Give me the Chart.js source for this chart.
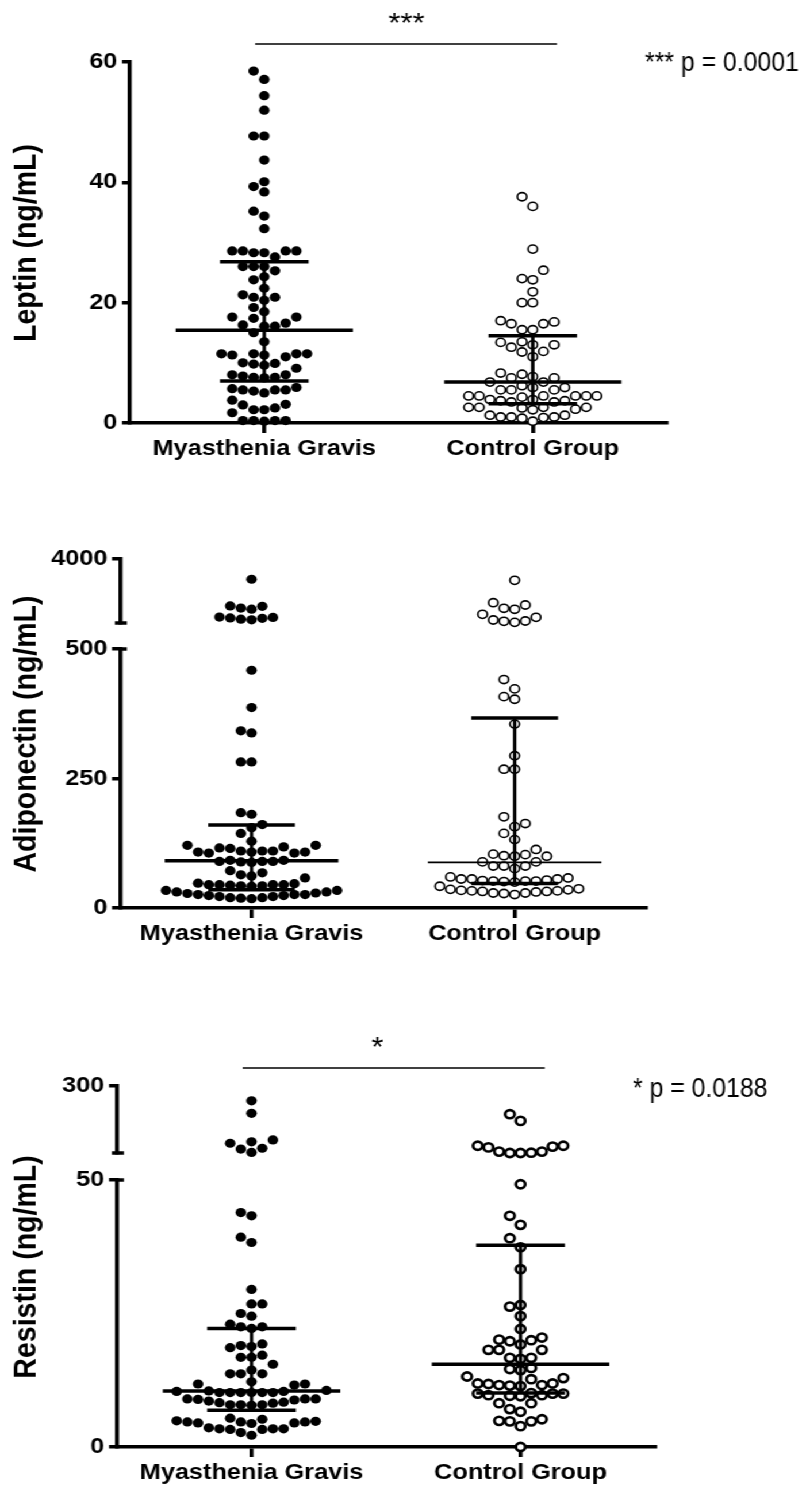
<!DOCTYPE html>
<html>
<head>
<meta charset="utf-8">
<script src="https://cdn.jsdelivr.net/npm/chart.js@4.4.1/dist/chart.umd.min.js"></script>
<style>
  html, body { margin: 0; padding: 0; background: #fff; }
  /* the source figure is stretched sideways, so the whole page is too */
  #page { position: relative; width: 701px; height: 1490px; transform: scaleX(1.1498); transform-origin: 0 0; }
  .panel { position: absolute; left: 0; width: 701px; }
  .panel canvas { position: absolute; left: 0; top: 0; }
</style>
</head>
<body>
<div id="page">
  <div class="panel" style="top:0;height:480px">
    <canvas id="leptin" width="701" height="480"></canvas>
  </div>
  <div class="panel" style="top:480px;height:480px">
    <canvas id="adipoLow" width="701" height="480"></canvas>
    <canvas id="adipoHigh" width="701" height="480"></canvas>
  </div>
  <div class="panel" style="top:960px;height:530px">
    <canvas id="resLow" width="701" height="530"></canvas>
    <canvas id="resHigh" width="701" height="530"></canvas>
  </div>
</div>
<script>
const groups = ['Myasthenia Gravis', 'Control Group'];

// Leptin (ng/mL)
const leptinMG = [
  58.5, 57.1, 54.4, 52.0, 47.7, 47.7, 43.7, 40.1, 39.3, 38.4, 35.2, 34.4, 32.3,
  28.6, 28.6, 28.3, 28.3, 28.6, 28.6, 27.6, 26.0, 26.0, 26.0, 25.3,
  24.3, 23.8, 22.4, 21.3, 20.9, 20.9, 20.4, 19.2, 18.5, 17.6, 17.6, 17.4, 16.6, 16.3, 16.1, 16.1, 15.0,
  13.5, 11.5, 11.5, 11.3, 11.3, 11.5, 11.5, 11.0,
  10.0, 9.8, 9.6, 9.9, 9.1, 8.0, 8.0, 7.6, 7.5, 7.6, 7.8,
  5.7, 5.5, 5.5, 5.0, 5.3, 5.5, 5.9,
  3.8, 3.0, 2.2, 2.2, 2.5, 3.1, 1.7,
  0.4, 0.4, 0.3, 0.4, 0.4
];
const leptinCG = [
  37.6, 36.0, 28.9, 25.4, 24.0, 23.8, 21.8, 20.0, 20.0,
  17.0, 16.5, 15.5, 15.5, 16.5, 16.8,
  13.5, 13.0, 12.6, 13.0, 13.4, 11.8, 11.0, 11.9,
  8.3, 7.7, 7.5, 7.5, 8.1, 6.8, 6.2, 5.9, 5.5, 5.9, 6.8,
  5.5, 5.5, 4.5, 4.5, 4.5, 4.3, 4.5, 4.5, 4.5,
  3.9, 3.7, 3.5, 3.5, 3.7, 3.9,
  2.6, 2.6, 2.3, 2.2, 2.5, 2.6, 2.6,
  1.3, 1.0, 0.9, 1.0, 1.0, 1.3,
  0.3, 0.8
];
const leptinMedian = [15.4, 6.8];
const leptinQ1 = [7.0, 3.2];
const leptinQ3 = [26.8, 14.5];
const leptinTicks = [0, 20, 40, 60];

// Adiponectin (ng/mL), broken axis 0-500 / 1000-4000
const adipoMG = [
  3050, 1780, 1700, 1650, 1800, 1260, 1220, 1150, 1180, 1240, 1280,
  459, 387, 342, 338, 282, 282, 184, 181, 161, 155, 144, 129, 118, 121, 121,
  115, 110, 108, 106, 108, 110, 108, 106, 110, 116,
  92, 90, 89, 90, 88, 90, 92,
  68, 62, 58, 64, 72,
  48, 45, 44, 43, 45, 42, 43, 45, 45, 47,
  34, 31, 29, 26, 24, 22, 20, 20, 18, 19, 22, 24, 26, 26, 28, 31, 34
];
const adipoCG = [
  3000, 1844, 1642, 1689, 1952, 1406, 1141, 1078, 1030, 1094, 1266,
  441, 423, 408, 403, 355, 294, 268, 268, 176, 163, 157, 144, 132, 113,
  103, 100, 100, 101, 104, 89, 89, 81, 76, 81, 81,
  60, 56, 56, 53, 52, 51, 50, 52, 52, 54, 56, 58,
  36, 35, 33, 32, 31, 29, 26, 28, 29, 32, 33, 34, 37, 42
];
const adipoMedian = [91, 88];
const adipoQ1 = [35, 47.5];
const adipoQ3 = [160, 367];
const adipoTicksLow = [0, 250, 500];
const adipoTicksHigh = [4000];
const adipoRangeHigh = [1000, 4000];

// Resistin (ng/mL), broken axis 0-50 / 60-300
const resistinMG = [
  247, 202, 95, 74, 107, 62, 77, 100,
  43.3, 43.9, 39.3, 38.3, 29.5, 26.8, 26.8, 24.5, 25.0, 23.0, 22.2, 22.5, 22.5,
  19.3, 18.6, 18.8, 19.0, 16.8, 17.2, 16.8, 15.5, 14.4, 13.7, 13.7, 13.7, 12.2, 11.8, 11.8, 11.6,
  10.6, 10.4, 10.2, 10.2, 10.2, 10.2, 10.2, 10.2, 10.4, 10.5,
  9.0, 8.6, 8.2, 7.9, 9.0, 8.9, 8.8, 9.0, 8.3, 7.9, 7.8, 7.9, 8.4,
  5.4, 4.8, 4.7, 4.7, 4.5, 4.4, 4.5, 4.7, 4.9, 5.2,
  3.4, 3.3, 2.7, 2.2, 3.4, 3.3, 3.4, 3.6
];
const resistinCG = [
  175, 199, 86, 80, 65, 60, 60, 61, 65, 83, 86,
  49.2, 43.3, 41.6, 39.1, 37.4, 33.3, 26.3, 26.6, 24.5, 22.1,
  20.0, 19.2, 20.1, 20.5, 19.8, 18.2, 18.2, 18.2, 16.7, 16.7, 16.5, 14.8, 14.6, 14.4, 12.9, 12.7, 13.2,
  11.9, 11.6, 11.4, 11.6, 11.5, 11.8, 11.9,
  10.1, 10.0, 9.5, 9.7, 10.0, 9.7, 9.6, 10.0,
  8.2, 8.2, 6.6, 7.1, 4.9, 4.8, 4.8, 5.2, 3.9, 0.0
];
const resistinMedian = [10.5, 15.5];
const resistinQ1 = [6.9, 10.1];
const resistinQ3 = [22.2, 37.8];
const resistinTicksLow = [0, 50];
const resistinTicksHigh = [300];
const resistinRangeHigh = [60, 300];

const SX = 806 / 701;
const FONT = '"Liberation Sans", Arial, Helvetica, sans-serif';
const BLACK = '#000';
const SLOT = 9.3;      // horizontal step between dots
const DOT_GAP = 10;    // min distance between dot centres

function annotPlugin(cfg) {
  return {
    id: 'annot',
    afterDraw(chart) {
      const ctx = chart.ctx, area = chart.chartArea, xs = chart.scales.x, ys = chart.scales.y;
      ctx.save();
      ctx.strokeStyle = BLACK;
      ctx.fillStyle = BLACK;
      (cfg.caps || []).forEach(c => {
        const y = ys.getPixelForValue(c.value);
        ctx.lineWidth = 3.5;
        ctx.beginPath();
        ctx.moveTo(area.left - c.l, y);
        ctx.lineTo(area.left + c.r, y);
        ctx.stroke();
      });
      (cfg.bars || []).forEach(b => {
        ctx.lineWidth = 1.6;
        ctx.beginPath();
        ctx.moveTo(xs.getPixelForValue(b.from), b.y);
        ctx.lineTo(xs.getPixelForValue(b.to), b.y);
        ctx.stroke();
      });
      (cfg.texts || []).forEach(t => {
        ctx.save();
        const x = t.xv !== undefined ? xs.getPixelForValue(t.xv) : t.x;
        ctx.translate(x, t.y);
        if (t.rotate) ctx.rotate(t.rotate);
        ctx.scale(1, t.sy || 1);
        ctx.font = t.font;
        ctx.textAlign = t.align || 'left';
        ctx.textBaseline = t.baseline || 'alphabetic';
        ctx.fillText(t.text, 0, 0);
        ctx.restore();
      });
      ctx.restore();
    }
  };
}

function dotSet(style) {
  return Object.assign({data: [], order: 1, clip: false, pointStyle: 'circle', showLine: false}, style);
}
const filled = {pointRadius: 4.6, pointBackgroundColor: BLACK, pointBorderColor: BLACK, pointBorderWidth: 0};
const open = w => ({pointRadius: 4.1, pointBackgroundColor: '#fff', pointBorderColor: BLACK, pointBorderWidth: w});

function summarySets(med, q1, q3, medW) {
  const sets = [];
  const seg = (a, b, w) => sets.push({
    data: [a, b], showLine: true, pointRadius: 0, borderColor: BLACK,
    borderWidth: w, borderCapStyle: 'butt', order: 0, clip: false
  });
  med.forEach((m, g) => {
    seg({x: g - 0.33, y: m}, {x: g + 0.33, y: m}, medW[g]);
    seg({x: g - 0.165, y: q1[g]}, {x: g + 0.165, y: q1[g]}, 3.5);
    seg({x: g - 0.165, y: q3[g]}, {x: g + 0.165, y: q3[g]}, 3.5);
    seg({x: g, y: q1[g]}, {x: g, y: q3[g]}, 3);
  });
  return sets;
}

function makeChart(id, o) {
  const canvas = document.getElementById(id);
  const W = canvas.width, H = canvas.height;
  const xH = o.showX ? 40 : 0;
  return new Chart(canvas, {
    type: 'scatter',
    data: {datasets: o.datasets},
    options: {
      responsive: false,
      animation: false,
      devicePixelRatio: 1,
      events: [],
      layout: {padding: {left: 0, top: o.top, right: W - o.right, bottom: H - o.bottom - xH}},
      plugins: {legend: {display: false}, tooltip: {enabled: false}},
      scales: {
        x: {
          type: 'linear', min: -0.5, max: 1.5, display: o.showX,
          afterBuildTicks: s => { s.ticks = groups.map((g, i) => ({value: i})); },
          afterFit: s => { s.height = xH; },
          ticks: {
            callback: v => groups[v], color: BLACK, padding: 3, maxRotation: 0, autoSkip: false,
            font: {family: FONT, size: 22, weight: 'bold'}
          },
          grid: {drawOnChartArea: false, tickLength: 10, lineWidth: 3.5, color: BLACK},
          border: {display: true, width: 3.5, color: BLACK}
        },
        y: {
          type: 'linear', min: o.min, max: o.max,
          afterBuildTicks: s => { s.ticks = o.ticks.map(v => ({value: v})); },
          afterFit: s => { s.width = o.axisX; },
          ticks: {
            callback: v => String(v), color: BLACK, padding: 4,
            font: {family: FONT, size: 22, weight: 'bold'}
          },
          grid: {drawOnChartArea: false, tickLength: 7, lineWidth: 3.5, color: BLACK},
          border: {display: true, width: 3.5, color: BLACK}
        }
      }
    },
    plugins: [annotPlugin(o.annot || {})]
  });
}

function swarmOffsets(pys) {
  const idx = pys.map((_, i) => i).sort((a, b) => pys[b] - pys[a]);
  const placed = [];
  const off = new Array(pys.length).fill(0);
  idx.forEach(i => {
    for (let k = 0; k < 80; k++) {
      const s = k === 0 ? 0 : (k % 2 ? -(k + 1) / 2 : k / 2);
      const free = placed.every(p => Math.hypot((p.s - s) * SLOT * SX, p.y - pys[i]) >= DOT_GAP);
      if (free) {
        off[i] = s;
        placed.push({s: s, y: pys[i]});
        return;
      }
    }
  });
  return off;
}

function placeDots(low, high, series, brk) {
  const xs = low.scales.x;
  const unit = 1 / (xs.getPixelForValue(1) - xs.getPixelForValue(0));
  series.forEach((vals, g) => {
    const pick = v => (v > brk ? high : low);
    const pys = vals.map(v => pick(v).scales.y.getPixelForValue(v));
    const off = swarmOffsets(pys);
    low.data.datasets[g].data = [];
    high.data.datasets[g].data = [];
    vals.forEach((v, i) => pick(v).data.datasets[g].data.push({x: g + off[i] * SLOT * unit, y: v}));
  });
  low.update('none');
  if (high !== low) high.update('none');
}

const titleFont = 'bold 28.5px ' + FONT;
const pFont = '21.6px ' + FONT;
const starFont = '27px ' + FONT;

// Leptin
const leptinChart = makeChart('leptin', {
  top: 62, bottom: 423, axisX: 113.1, right: 580.1, min: 0, max: 60, ticks: leptinTicks, showX: true,
  datasets: [dotSet(filled), dotSet(open(1.6))].concat(summarySets(leptinMedian, leptinQ1, leptinQ3, [3.5, 3.5])),
  annot: {
    bars: [{from: -0.034, to: 1.09, y: 44}],
    texts: [
      {text: 'Leptin (ng/mL)', x: 23.5, y: 243, font: titleFont, align: 'center', baseline: 'middle', rotate: -Math.PI / 2},
      {text: '***', xv: 0.53, y: 32, font: starFont, align: 'center'},
      {text: '*** p = 0.0001', x: 561, y: 70.5, font: pFont, sy: 1.3}
    ]
  }
});
placeDots(leptinChart, leptinChart, [leptinMG, leptinCG], Infinity);

// Adiponectin
const adipoLow = makeChart('adipoLow', {
  top: 169, bottom: 428, axisX: 104.4, right: 562, min: 0, max: 500, ticks: adipoTicksLow, showX: true,
  datasets: [dotSet(filled), dotSet(open(1.6))].concat(summarySets(adipoMedian, adipoQ1, adipoQ3, [3.5, 1.8])),
  annot: {
    caps: [{value: 500, l: 0, r: 6}],
    texts: [
      {text: 'Adiponectin (ng/mL)', x: 23.5, y: 254, font: titleFont, align: 'center', baseline: 'middle', rotate: -Math.PI / 2}
    ]
  }
});
const adipoHigh = makeChart('adipoHigh', {
  top: 79, bottom: 143, axisX: 104.4, right: 562, min: adipoRangeHigh[0], max: adipoRangeHigh[1],
  ticks: adipoTicksHigh, showX: false,
  datasets: [dotSet(filled), dotSet(open(1.6))],
  annot: {caps: [{value: adipoRangeHigh[0], l: 4.5, r: 6}]}
});
placeDots(adipoLow, adipoHigh, [adipoMG, adipoCG], 500);

// Resistin
const resLow = makeChart('resLow', {
  top: 220, bottom: 487, axisX: 101.8, right: 569.7, min: 0, max: 50, ticks: resistinTicksLow, showX: true,
  datasets: [dotSet(filled), dotSet(open(2.6))].concat(summarySets(resistinMedian, resistinQ1, resistinQ3, [3.5, 3.5])),
  annot: {
    caps: [{value: 50, l: 0, r: 6}],
    texts: [
      {text: 'Resistin (ng/mL)', x: 23.5, y: 307, font: titleFont, align: 'center', baseline: 'middle', rotate: -Math.PI / 2}
    ]
  }
});
const resHigh = makeChart('resHigh', {
  top: 126, bottom: 193, axisX: 101.8, right: 569.7, min: resistinRangeHigh[0], max: resistinRangeHigh[1],
  ticks: resistinTicksHigh, showX: false,
  datasets: [dotSet(filled), dotSet(open(2.6))],
  annot: {
    caps: [{value: resistinRangeHigh[0], l: 4.5, r: 6}],
    bars: [{from: -0.033, to: 1.09, y: 108}],
    texts: [
      {text: '*', xv: 0.468, y: 96, font: starFont, align: 'center'},
      {text: '* p = 0.0188', x: 550.5, y: 136.7, font: pFont, sy: 1.3}
    ]
  }
});
placeDots(resLow, resHigh, [resistinMG, resistinCG], 50);
</script>
</body>
</html>
